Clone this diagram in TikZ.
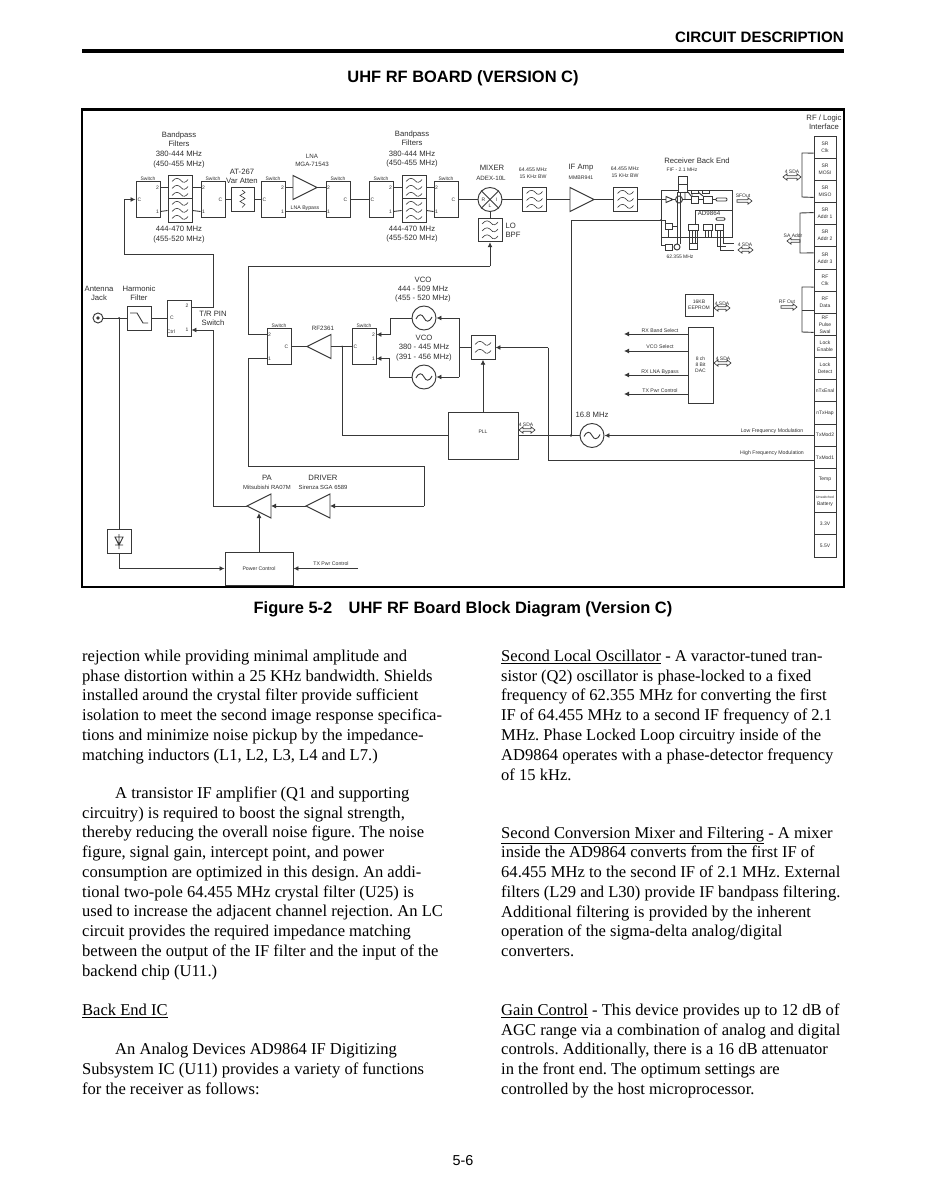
\documentclass[tikz,border=0pt]{standalone}
\usepackage{fontspec}
\setmainfont{Liberation Sans}
\newfontfamily\bodyfont{Liberation Serif}
\usetikzlibrary{arrows.meta,calc}
\colorlet{wirecol}{black!78}
\colorlet{txtcol}{black!82}
\tikzset{
  wire/.style={draw=wirecol,line width=0.9pt},
  sig/.style={wire,-{Latex[length=5pt,width=5pt]}},
  blockbox/.style={draw=wirecol,line width=0.95pt,inner sep=0pt,fill=white},
  bus/.style={draw=wirecol,line width=0.65pt,line join=miter},
  lbl/.style={inner sep=0pt,text=txtcol,font=\fontsize{7.7}{9.3}\selectfont,align=center},
  midlbl/.style={lbl,font=\fontsize{6.2}{7.6}\selectfont},
  smalllbl/.style={lbl,font=\fontsize{5.2}{7}\selectfont},
  tinylbl/.style={lbl,font=\fontsize{5}{5.8}\selectfont},
  celllbl/.style={blockbox,minimum width=22,minimum height=22.16,text=txtcol,align=center,font=\fontsize{5}{7}\selectfont},
  bodyline/.style={inner sep=0pt,anchor=base west,font=\bodyfont\fontsize{16.55}{19.7}\selectfont\frenchspacing},
  headlbl/.style={inner sep=0pt,font=\bfseries\fontsize{16.45}{19}\selectfont},
}
% switch with C on the left
\newcommand{\switchR}[3]{%
  \node[blockbox,minimum width=24,minimum height=35.5] (#1) at (#2,#3) {};
  \coordinate (#1c) at (#1.west);
  \coordinate (#1two) at ($(#1.east)+(0,-12)$);
  \coordinate (#1one) at ($(#1.east)+(0,12)$);
  \node[tinylbl] (#1sw) at ($(#1.north)+(0,-3)$) {Switch};
  \node[tinylbl] (#1tc) at ($(#1c)+(4,0)$) {C};
  \node[tinylbl] (#1ttwo) at ($(#1two)+(-3,0)$) {2};
  \node[tinylbl] (#1tone) at ($(#1one)+(-3,0)$) {1};
}
% switch with C on the right
\newcommand{\switchL}[3]{%
  \node[blockbox,minimum width=24,minimum height=35.5] (#1) at (#2,#3) {};
  \coordinate (#1c) at (#1.east);
  \coordinate (#1two) at ($(#1.west)+(0,-12)$);
  \coordinate (#1one) at ($(#1.west)+(0,12)$);
  \node[tinylbl] (#1sw) at ($(#1.north)+(0,-3)$) {Switch};
  \node[tinylbl] (#1tc) at ($(#1c)+(-5,0)$) {C};
  \node[tinylbl] (#1ttwo) at ($(#1two)+(3,0)$) {2};
  \node[tinylbl] (#1tone) at ($(#1one)+(3,0)$) {1};
}
% filter box with some wavy lines
\newcommand{\filterbox}[4]{%
  \node[blockbox,minimum width=24,minimum height=23.5] (#1) at (#2,#3) {};
  \foreach \dy in {#4}
    \draw[wire,line width=0.6pt] (#2-8,#3+\dy+1) .. controls (#2-4,#3+\dy-4) and (#2-1,#3+\dy-2) .. (#2+1,#3+\dy)
      .. controls (#2+3,#3+\dy+3) and (#2+6,#3+\dy+2) .. (#2+8,#3+\dy-1);
}
% oscillator
\newcommand{\oscbox}[3]{%
  \node[blockbox,circle,minimum size=24] (#1) at (#2,#3) {};
  \draw[wire] (#2-8,#3+1) .. controls (#2-5,#3-5) and (#2-2,#3-4) .. (#2,#3)
    .. controls (#2+2,#3+4) and (#2+5,#3+5) .. (#2+8,#3-1);
}
% amp triangles, apex right or left
\newcommand{\ampR}[3]{%
  \coordinate (#1in) at (#2,#3);
  \coordinate (#1out) at (#2+24,#3);
  \draw[blockbox] (#2,#3-12) -- (#2+24,#3) -- (#2,#3+12) -- cycle;
}
\newcommand{\ampL}[3]{%
  \coordinate (#1in) at (#2+24,#3);
  \coordinate (#1out) at (#2,#3);
  \draw[blockbox] (#2+24,#3-12) -- (#2,#3) -- (#2+24,#3+12) -- cycle;
}
% hollow bus arrows
\newcommand{\busboth}[3]{%
  \draw[bus] (#1,#3) -- (#1+4,#3-3.2) -- (#1+4,#3-1.2) -- (#2-4,#3-1.2) -- (#2-4,#3-3.2) -- (#2,#3)
    -- (#2-4,#3+3.2) -- (#2-4,#3+1.2) -- (#1+4,#3+1.2) -- (#1+4,#3+3.2) -- cycle;
}
\newcommand{\busright}[3]{%
  \draw[bus] (#1,#3-1.2) -- (#2-4,#3-1.2) -- (#2-4,#3-3.2) -- (#2,#3)
    -- (#2-4,#3+3.2) -- (#2-4,#3+1.2) -- (#1,#3+1.2) -- cycle;
}
\newcommand{\busleft}[3]{%
  \draw[bus] (#2,#3-1.2) -- (#1+4,#3-1.2) -- (#1+4,#3-3.2) -- (#1,#3)
    -- (#1+4,#3+3.2) -- (#1+4,#3+1.2) -- (#2,#3+1.2) -- cycle;
}
\begin{document}
\begin{tikzpicture}[x=1pt,y=-1pt]
  \useasboundingbox (0,0) rectangle (926,1198);
  % page head
  \node[headlbl,anchor=east,font=\bfseries\fontsize{15.1}{18}\selectfont] (pagehead) at (844,37.5) {CIRCUIT DESCRIPTION};
  \draw[line width=3.4pt] (82,51) -- (844,51);
  \node[headlbl] (boardtitle) at (463,78) {UHF RF BOARD (VERSION C)};
  \draw[line width=2.6pt] (82,109.5) rectangle (844,587);
  \node[headlbl] (figcaption) at (463,609.5) {Figure 5-2\quad UHF RF Board Block Diagram (Version C)};
  %Receive chain
  \switchR{swa}{148}{199.5}
  \filterbox{bpfaa}{180}{187.5}{-7,0,7}
  \filterbox{bpfab}{180}{210.5}{-7,0,7}
  \switchL{swb}{213}{199.5}
  \node[blockbox,minimum width=23,minimum height=24] (atten) at (242.5,199.5) {};
  \draw[wire,line width=0.6pt] (242,190) -- (245,192.5) -- (240,195.5) -- (245,198.5) -- (240,201.5) -- (245,204.5) -- (242,207.5);
  \switchR{swc}{273}{199.5}
  \ampR{lna}{293}{187.5}
  \switchL{swd}{338}{199.5}
  \switchR{swe}{381}{199.5}
  \filterbox{bpfba}{414}{187.5}{-7,0,7}
  \filterbox{bpfbb}{414}{210.5}{-7,0,7}
  \switchL{swf}{446}{199.5}
  \node[blockbox,circle,minimum size=24] (mixer) at (490,199.5) {};
  \draw[wire] (mixer.north east) -- (mixer.south west);
  \draw[wire] (mixer.north west) -- (mixer.south east);
  \node[tinylbl] (mixr) at (483.5,199.5) {R};
  \node[tinylbl] (mixi) at (496.5,199.5) {I};
  \node[tinylbl] (mixl) at (490,205.5) {L};
  \filterbox{lobpf}{490}{230}{-7,0,7}
  \filterbox{iffilta}{534.5}{199.5}{-7,0,7}
  \ampR{ifamp}{570}{199.5}
  \filterbox{iffiltb}{625.5}{199.5}{-7,0,7}
  \draw[wire] (swatwo) -- (bpfaa.west);
  \draw[wire] (swaone) -- (bpfab.west);
  \draw[wire] (bpfaa.east) -- (swbtwo);
  \draw[wire] (bpfab.east) -- (swbone);
  \draw[wire] (swbc) -- (atten.west);
  \draw[wire] (atten.east) -- (swcc);
  \draw[wire] (swctwo) -- (lnain);
  \draw[wire] (lnaout) -- (swdtwo);
  \draw[wire] (swcone) -- (swdone);
  \draw[wire] (swdc) -- (swec);
  \draw[wire] (swetwo) -- (bpfba.west);
  \draw[wire] (sweone) -- (bpfbb.west);
  \draw[wire] (bpfba.east) -- (swftwo);
  \draw[wire] (bpfbb.east) -- (swfone);
  \draw[wire] (swfc) -- (mixer.west);
  \draw[wire] (mixer.south) -- (lobpf.north);
  \draw[wire] (mixer.east) -- (iffilta.west);
  \draw[wire] (iffilta.east) -- (ifampin);
  \draw[wire] (ifampout) -- (iffiltb.west);
  %AD9864
  \node[blockbox,minimum width=71,minimum height=47] (backend) at (696.5,214) {};
  \draw[wire] (iffiltb.east) -- (666,199.5);
  \draw[blockbox] (666,196.5) -- (673,199.5) -- (666,202.5) -- cycle;
  \node[blockbox,circle,minimum size=7] (bemix) at (679,199.5) {};
  \node[blockbox,minimum width=7,minimum height=7] (bequada) at (694.5,199.5) {};
  \node[blockbox,minimum width=9,minimum height=7] (bequadb) at (707.5,199.5) {};
  \node[blockbox,rounded corners=1pt,minimum width=11,minimum height=3] (bebar) at (721.5,199.5) {};
  \node[blockbox,minimum width=9,minimum height=8] (bexa) at (682.5,180) {};
  \node[blockbox,minimum width=9,minimum height=8] (bexb) at (682.5,188) {};
  \draw[wire] (673,199.5) -- (bemix.west) (bemix.east) -- (bequada.west) (bequada.east) -- (bequadb.west) (bequadb.east) -- (bebar.west);
  \draw[wire] (695,236) -- (695,210) -- (732,210);
  \draw[wire] (685,192) -- (685,199) (688,192) -- (691,196);
  \draw[wire] (692,192) -- (692,196) (698,192) -- (703,196);
  \node[blockbox,minimum width=7,minimum height=3] (bedeca) at (695,192) {};
  \node[blockbox,minimum width=7,minimum height=3] (bedecb) at (706,192) {};
  \node[midlbl] (adlbl) at (709,213) {AD9864};
  \node[blockbox,minimum width=7,minimum height=6] (belo) at (668.5,226) {};
  \node[blockbox,minimum width=10,minimum height=6] (beadca) at (693,227) {};
  \node[blockbox,minimum width=9,minimum height=6] (beadcb) at (707.5,227) {};
  \node[blockbox,minimum width=8,minimum height=6] (beadcc) at (719.5,227) {};
  \node[blockbox,rounded corners=1pt,minimum width=9,minimum height=2.5] (bebarb) at (720.5,219) {};
  \node[blockbox,minimum width=7,minimum height=6] (bextla) at (668.5,247) {};
  \node[blockbox,circle,minimum size=6] (bextlb) at (677,247) {};
  \node[blockbox,minimum width=8,minimum height=6] (bextlc) at (693,246) {};
  \draw[wire] (665,245) -- (661,245) -- (661,238) (668.5,229) -- (668.5,238);
  \draw[wire] (672,226) -- (677,226) (677,244) -- (677,192) (680,244) -- (680,192);
  \draw[wire] (689,230) -- (689,243) (692,230) -- (692,243) (695,230) -- (695,243) (697,230) -- (697,243);
  \draw[wire] (705,230) -- (705,238) (708,230) -- (708,238) (711,230) -- (711,238);
  \draw[wire] (717,230) -- (717,246) -- (726,246);
  \draw[wire] (720,230) -- (720,250) -- (734,250);
  \draw[wire] (723,230) -- (723,243) -- (734,243);
  \draw[wire,dotted] (732,204) -- (732,216);
  %Antenna path
  \node[blockbox,circle,minimum size=10] (antjack) at (98,318) {};
  \fill[wirecol] (antjack.center) circle (1.8);
  \node[blockbox,minimum width=24,minimum height=24] (harmfilt) at (139,318) {};
  \draw[wire] (130,313) -- (137,313) -- (143,323) -- (148,323);
  \node[blockbox,minimum width=24,minimum height=36] (trsw) at (179,318) {};
  \coordinate (trswtwo) at ($(trsw.east)+(0,-11)$);
  \coordinate (trswone) at ($(trsw.east)+(0,12)$);
  \node[tinylbl] (trc) at (172,318) {C};
  \node[tinylbl] (trtwo) at (187,306) {2};
  \node[tinylbl] (trone) at (187,329.5) {1};
  \node[tinylbl] (trctl) at (171,332) {Ctrl};
  \coordinate (antbranch) at (119,318);
  \draw[wire] (antjack.east) -- (harmfilt.west);
  \draw[wire] (harmfilt.east) -- (trsw.west);
  \fill[wirecol] (antbranch) circle (1);
  \node[blockbox,minimum width=24,minimum height=24] (detbox) at (119,541) {};
  \draw[wire] (115,537) -- (123,537) -- (119,545) -- cycle (115,545) -- (123,545) (119,534) -- (119,549);
  \draw[wire] (antbranch) -- (detbox.north);
  \node[blockbox,minimum width=68,minimum height=33] (pwrctl) at (259,568.5) {};
  \node[smalllbl] (pwrlbl) at (259,569) {Power Control};
  \coordinate (txpwrin) at (358,568.5);
  \draw[sig] (detbox.south) |- (pwrctl.west);
  \draw[sig] (txpwrin) -- (pwrctl.east);
  \ampL{pa}{247}{506}
  \ampL{driver}{306}{506}
  \draw[sig] (driverout) -- (pain);
  \draw[sig] (pwrctl.north) -- (259,513);
  \draw[wire] (paout) -- (213,506);
  \draw[sig] (213,506) -- (213,330) -- (trswone);
  \draw[sig] (trswtwo) -- (213,307) -- (213,254) -- (124,254) -- (124,199.5) -- (swac);
  %Transmit and synth
  \switchL{swg}{279}{346.5}
  \ampL{rfamp}{307}{346.5}
  \switchR{swh}{364}{346.5}
  \oscbox{vcoa}{424}{318}
  \oscbox{vcob}{424}{377}
  \filterbox{loopfilt}{483}{347.5}{-4,4}
  \node[blockbox,minimum width=70,minimum height=47] (pll) at (483,435.5) {};
  \node[tinylbl] (plllbl) at (483,432) {PLL};
  \oscbox{osc}{592}{435.5}
  \coordinate (oscbranch) at (571,435.5);
  \draw[sig] (490,266) -- (lobpf.south);
  \draw[wire] (490,266) -- (248,266) -- (248,334.5) -- (swgtwo);
  \draw[wire] (swgone) -- (248,358.5) -- (248,466) -- (424,466) -- (424,506);
  \draw[sig] (424,506) -- (driverin);
  \draw[wire] (swgc) -- (rfampout);
  \draw[wire] (rfampin) -- (swhc);
  \fill[wirecol] (342,346.5) circle (1);
  \draw[wire] (342,346.5) -- (342,435.5) -- (pll.west);
  \draw[sig] (vcoa.west) -- (390,318) -- (390,334.5) -- (swhtwo);
  \draw[sig] (vcob.west) -- (389,377) -- (389,358.5) -- (swhone);
  \draw[wire] (loopfilt.west) -- (459,347.5);
  \draw[sig] (459,318) -- (vcoa.east);
  \draw[sig] (459,377) -- (vcob.east);
  \draw[wire] (459,318) -- (459,377);
  \draw[sig] (pll.north) -- (loopfilt.south);
  \draw[sig] (548,347.5) -- (loopfilt.east);
  \draw[wire] (548,347.5) -- (548,460);
  \draw[wire] (pll.east) -- (osc.west);
  \fill[wirecol] (oscbranch) circle (1.4);
  \draw[wire] (oscbranch) -- (571,220);
  \draw[wire] (571,220) -- (665,220) -- (665,223);
  \fill[wirecol] (661,220) circle (0.9);
  %DAC and memory
  \node[blockbox,minimum width=28,minimum height=22] (eeprom) at (699,305) {};
  \node[tinylbl] (eepromlbl) at (699,305) {16KB\\EEPROM};
  \node[blockbox,minimum width=25,minimum height=76] (dac) at (700.5,365) {};
  \node[tinylbl] (daclbl) at (700.5,365) {8 ch\\8 Bit\\DAC};
  \draw[sig] (dac.west |- 0,334) -- (624,334);
  \draw[sig] (dac.west |- 0,351) -- (624,351);
  \draw[sig] (dac.west |- 0,375) -- (624,375);
  \draw[sig] (dac.west |- 0,394) -- (624,394);
  %RF / Logic interface
  \foreach \celltxt [count=\i from 0] in {{SR\\Clk},{SR\\MOSI},{SR\\MISO},{SR\\Addr 1},{SR\\Addr 2},{SR\\Addr 3},{RF\\Clk},{RF\\Data},{RF\\Pulse\\Swal},{Lock\\Enable},{Lock\\Detect},nTxEnal,nTxHap,TxMod2,TxMod1,Temp,{\fontsize{3.4}{4.4}\selectfont Unswitched\\Battery},3.3V,5.5V}
    \node[celllbl] (cell\i) at (825,{147.1+22.16*\i}) {\celltxt};
  \draw[wire] ($(cell0.west)+(0,6)$) -- (802,153) -- (802,197) -- ($(cell2.west)+(0,6)$);
  \draw[wire] ($(cell3.west)+(0,-1)$) -- (800,213) -- (800,253) -- ($(cell5.west)+(0,-5)$);
  \draw[wire] ($(cell6.west)+(0,7)$) -- (802,287) -- (802,332) -- ($(cell8.west)+(0,8)$);
  \draw[wire] (802,310) -- (cell7.west |- 0,310);
  \draw[sig] (cell13.west |- osc.east) -- (osc.east);
  \draw[wire] (cell14.west |- 0,460) -- (548,460);
  \busboth{783}{801}{177}
  \busleft{787}{800}{241}
  \busright{781}{797}{307}
  \busright{737}{752}{201}
  \busboth{738}{753}{250}
  \busboth{714}{730}{308}
  \busboth{714}{731}{363}
  \busboth{519}{535}{430}
  % Text Node
  \node[lbl] (bpfatop) at (179,139) {Bandpass\\Filters};
  \node[lbl] (bpfafreq) at (179,159.5) {380-444 MHz\\(450-455 MHz)};
  \node[lbl] (bpfalow) at (179,234.5) {444-470 MHz\\(455-520 MHz)};
  \node[lbl] (bpfbtop) at (412,138.5) {Bandpass\\Filters};
  \node[lbl] (bpfbfreq) at (412,159) {380-444 MHz\\(450-455 MHz)};
  \node[lbl] (bpfblow) at (412,234) {444-470 MHz\\(455-520 MHz)};
  \node[lbl] (attenlbl) at (242,176.5) {AT-267\\Var Atten};
  \node[midlbl] (lnalbl) at (312,160.5) {LNA\\MGA-71543};
  \node[smalllbl] (bypasslbl) at (305,208) {LNA Bypass};
  \node[lbl] (mixerlbl) at (492,168) {MIXER};
  \node[midlbl] (mixerpart) at (491,178) {ADEX-10L};
  \node[smalllbl] (ifbwa) at (533,173) {64.455 MHz\\15 KHz BW};
  \node[lbl] (ifamplbl) at (581,168) {IF Amp};
  \node[smalllbl] (ifamppart) at (581,178) {MMBR941};
  \node[smalllbl] (ifbwb) at (625,172.5) {64.455 MHz\\15 KHz BW};
  \node[lbl,align=left] (lolbl) at (513,230.5) {LO\\BPF};
  \node[lbl] (backendlbl) at (697,161) {Receiver Back End};
  \node[tinylbl] (fiflbl) at (682,170) {FIF - 2.1 MHz};
  \node[tinylbl] (xtallbl) at (680,257) {62.355 MHz};
  \node[lbl] (logiclbl) at (824,122) {RF / Logic\\Interface};
  \node[lbl] (antlbl) at (99,293.5) {Antenna\\Jack};
  \node[lbl] (harmlbl) at (139,293.5) {Harmonic\\Filter};
  \node[lbl] (trlbl) at (213,318) {T/R PIN\\Switch};
  \node[lbl] (vcoalbl) at (423,289.5) {VCO\\444 - 509 MHz\\(455 - 520 MHz)};
  \node[lbl] (vcoblbl) at (424,348) {VCO\\380 - 445 MHz\\(391 - 456 MHz)};
  \node[midlbl] (rfamplbl) at (323,328) {RF2361};
  \node[lbl] (osclbl) at (592,415) {16.8 MHz};
  \node[lbl] (palbl) at (267,478) {PA};
  \node[smalllbl,font=\fontsize{5.9}{7}\selectfont] (papart) at (267,487) {Mitsubishi RA07M};
  \node[lbl] (driverlbl) at (323,478) {DRIVER};
  \node[smalllbl,font=\fontsize{5.9}{7}\selectfont] (driverpart) at (323,487) {Sirenza SGA 6589};
  \node[smalllbl] (txpwrlbl) at (331,564) {TX Pwr Control};
  \node[smalllbl] (rxbandlbl) at (660,331) {RX Band Select};
  \node[smalllbl] (vcosellbl) at (660,347) {VCO Select};
  \node[smalllbl] (rxlnalbl) at (660,372) {RX LNA Bypass};
  \node[smalllbl] (dactxlbl) at (660,391) {TX Pwr Control};
  \node[smalllbl] (lowlbl) at (772,431) {Low Frequency Modulation};
  \node[smalllbl] (highlbl) at (772,453) {High Frequency Modulation};
  \node[tinylbl] (srbuslbl) at (792,172) {4 SDA};
  \node[tinylbl] (addrlbl) at (793,236) {SA Addr};
  \node[tinylbl] (rfoutlbl) at (787,302) {RF Out};
  \node[tinylbl] (sfoutlbl) at (743,196) {SFOut};
  \node[tinylbl] (bebuslbl) at (745,245) {4 SDA};
  \node[tinylbl] (eeplbl) at (722,303.5) {4 SDA};
  \node[tinylbl] (daclbltwo) at (723,358.5) {4 SDA};
  \node[tinylbl] (plllbltwo) at (526,425) {4 SDA};
  %Body text
  \foreach \ypos/\txt [count=\i] in {656/{rejection while providing minimal amplitude and},676/{phase distortion within a 25 KHz bandwidth. Shields},695/{installed around the crystal filter provide sufficient},715/{isolation to meet the second image response specifica-},735/{tions and minimize noise pickup by the impedance-},755/{matching inductors (L1, L2, L3, L4 and L7.)},813/{circuitry) is required to boost the signal strength,},832/{thereby reducing the overall noise figure. The noise},852/{figure, signal gain, intercept point, and power},872/{consumption are optimized in this design. An addi-},892/{tional two-pole 64.455 MHz crystal filter (U25) is},911/{used to increase the adjacent channel rejection. An LC},931/{circuit provides the required impedance matching},951/{between the output of the IF filter and the input of the},971/{backend chip (U11.)},1010/{\underline{Back End IC}},1069/{Subsystem IC (U11) provides a variety of functions},1089/{for the receiver as follows:}}
    \node[bodyline] (leftline\i) at (82,\ypos+5.5) {\txt};
  \node[bodyline] (leftind) at (115,798.5) {A transistor IF amplifier (Q1 and supporting};
  \node[bodyline] (leftindc) at (115,1054.5) {An Analog Devices AD9864 IF Digitizing};
  \foreach \ypos/\txt [count=\i] in {656/{\underline{Second Local Oscillator} - A varactor-tuned tran-},676/{sistor (Q2) oscillator is phase-locked to a fixed},695/{frequency of 62.355 MHz for converting the first},715/{IF of 64.455 MHz to a second IF frequency of 2.1},735/{MHz. Phase Locked Loop circuitry inside of the},755/{AD9864 operates with a phase-detector frequency},775/{of 15 kHz.},833/{\underline{Second Conversion Mixer and Filtering} - A mixer},852/{inside the AD9864 converts from the first IF of},872/{64.455 MHz to the second IF of 2.1 MHz. External},892/{filters (L29 and L30) provide IF bandpass filtering.},912/{Additional filtering is provided by the inherent},931/{operation of the sigma-delta analog/digital},951/{converters.},1010/{\underline{Gain Control} - This device provides up to 12 dB of},1030/{AGC range via a combination of analog and digital},1049/{controls. Additionally, there is a 16 dB attenuator},1069/{in the front end. The optimum settings are},1089/{controlled by the host microprocessor.}}
    \node[bodyline] (rightline\i) at (501,\ypos+5.5) {\txt};
  \node[inner sep=0pt,font=\fontsize{14.4}{17}\selectfont] (pagenum) at (463,1161) {5-6};
\end{tikzpicture}
\end{document}
